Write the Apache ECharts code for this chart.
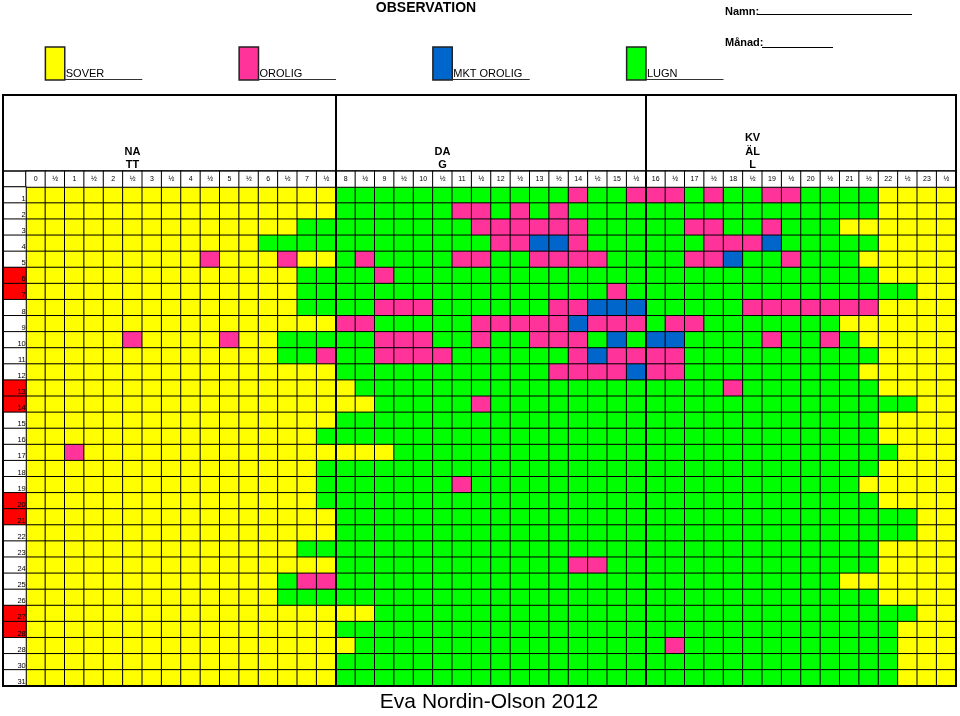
<!DOCTYPE html>
<html><head><meta charset="utf-8">
<script src="https://cdn.jsdelivr.net/npm/echarts@6/dist/echarts.min.js"></script>
<style>html,body{margin:0;padding:0;background:#fff}#c{width:960px;height:716px}</style>
</head><body><div id="c"></div>
<script>
// ---- DATA ----
const timeLabels = ['0','½','1','½','2','½','3','½','4','½','5','½','6','½','7','½',
  '8','½','9','½','10','½','11','½','12','½','13','½','14','½','15','½',
  '16','½','17','½','18','½','19','½','20','½','21','½','22','½','23','½'];
const dayLabels = ['1','2','3','4','5','6','7','8','9','10','11','12','13','14','15','16',
  '17','18','19','20','21','22','23','24','25','26','27','28','28','30','31'];
const redDays = [6,7,13,14,20,21,27,28]; // row numbers (1-based) with red label cell
const stateNames = ['SOVER','OROLIG','MKT OROLIG','LUGN'];
const stateColors = ['#ffff00','#ff3399','#0066cc','#00ff00'];
const stateCodes = 'YPBG'; // Y=SOVER, P=OROLIG, B=MKT OROLIG, G=LUGN
const groupLabels = ['NA\nTT','DA\nG','KV\nÄL\nL'];
// one string per day, 48 half-hour cells, grouped by 8
const dayRows = [
  'YYYYYYYY YYYYYYYY GGGGGGGG GGGGPGGP PPGPGGPP GGGGYYYY', // 1
  'YYYYYYYY YYYYYYYY GGGGGGPP GPGPGGGG GGGGGGGG GGGGYYYY', // 2
  'YYYYYYYY YYYYYYGG GGGGGGGP PPPPPGGG GGPPGGPG GGYYYYYY', // 3
  'YYYYYYYY YYYYGGGG GGGGGGGG PPBBPGGG GGGPPPBG GGGGYYYY', // 4
  'YYYYYYYY YPYYYPYY GPGGGGPP GGPPPPGG GGPPBGGP GGGYYYYY', // 5
  'YYYYYYYY YYYYYYGG GGPGGGGG GGGGGGGG GGGGGGGG GGGGYYYY', // 6
  'YYYYYYYY YYYYYYGG GGGGGGGG GGGGGGPG GGGGGGGG GGGGGGYY', // 7
  'YYYYYYYY YYYYYYGG GGPPPGGG GGGPPBBB GGGGGPPP PPPPYYYY', // 8
  'YYYYYYYY YYYYYYYY PPGGGGGP PPPPBPPP GPPGGGGG GGYYYYYY', // 9
  'YYYYYPYY YYPYYGGG GGPPPGGP GGPPPGBG BBGGGGPG GPGYYYYY', // 10
  'YYYYYYYY YYYYYGGP GGPPPPGG GGGGPBPP PPGGGGGG GGGGYYYY', // 11
  'YYYYYYYY YYYYYYYY GGGGGGGG GGGPPPPB PPGGGGGG GGGYYYYY', // 12
  'YYYYYYYY YYYYYYYY YGGGGGGG GGGGGGGG GGGGPGGG GGGGYYYY', // 13
  'YYYYYYYY YYYYYYYY YYGGGGGP GGGGGGGG GGGGGGGG GGGGGGYY', // 14
  'YYYYYYYY YYYYYYYY GGGGGGGG GGGGGGGG GGGGGGGG GGGGYYYY', // 15
  'YYYYYYYY YYYYYYYG GGGGGGGG GGGGGGGG GGGGGGGG GGGGYYYY', // 16
  'YYPYYYYY YYYYYYYY YYYGGGGG GGGGGGGG GGGGGGGG GGGGGYYY', // 17
  'YYYYYYYY YYYYYYYG GGGGGGGG GGGGGGGG GGGGGGGG GGGGYYYY', // 18
  'YYYYYYYY YYYYYYYG GGGGGGPG GGGGGGGG GGGGGGGG GGGYYYYY', // 19
  'YYYYYYYY YYYYYYYG GGGGGGGG GGGGGGGG GGGGGGGG GGGGYYYY', // 20
  'YYYYYYYY YYYYYYYY GGGGGGGG GGGGGGGG GGGGGGGG GGGGGGYY', // 21
  'YYYYYYYY YYYYYYYY GGGGGGGG GGGGGGGG GGGGGGGG GGGGGGYY', // 22
  'YYYYYYYY YYYYYYGG GGGGGGGG GGGGGGGG GGGGGGGG GGGGYYYY', // 23
  'YYYYYYYY YYYYYYYY GGGGGGGG GGGGPPGG GGGGGGGG GGGGYYYY', // 24
  'YYYYYYYY YYYYYGPP GGGGGGGG GGGGGGGG GGGGGGGG GGYYYYYY', // 25
  'YYYYYYYY YYYYYGGG GGGGGGGG GGGGGGGG GGGGGGGG GGGGYYYY', // 26
  'YYYYYYYY YYYYYYYY YYGGGGGG GGGGGGGG GGGGGGGG GGGGGGYY', // 27
  'YYYYYYYY YYYYYYYY GGGGGGGG GGGGGGGG GGGGGGGG GGGGGYYY', // 28
  'YYYYYYYY YYYYYYYY YGGGGGGG GGGGGGGG GPGGGGGG GGGGGYYY', // 29 (labelled 28)
  'YYYYYYYY YYYYYYYY GGGGGGGG GGGGGGGG GGGGGGGG GGGGGYYY', // 30
  'YYYYYYYY YYYYYYYY GGGGGGGG GGGGGGGG GGGGGGGG GGGGGYYY'  // 31
];

// ---- LAYOUT ----
const L = 26, R = 956, T = 187, B = 686, HT = 171, FT = 95, LX = 3;
const cw = (R - L) / 48;
const FONT = '"Liberation Sans", Arial, sans-serif';

const mainData = [];
dayRows.forEach((s, r) => {
  const str = s.replace(/ /g, '');
  for (let c = 0; c < str.length; c++) mainData.push([c, r, stateCodes.indexOf(str[c])]);
});
const idx48 = timeLabels.map((_, i) => i);
const idx31 = dayLabels.map((_, i) => i);

const chart = echarts.init(document.getElementById('c'), null, {renderer: 'canvas'});

const hiddenCat = (gi, data, inverse) => ({gridIndex: gi, type: 'category', data: data, show: false, inverse: !!inverse});

const graphics = [];
// title / name fields
graphics.push({type: 'text', x: 426, y: 8, style: {text: 'OBSERVATION', font: 'bold 14px ' + FONT, fill: '#000', align: 'center', verticalAlign: 'middle'}});
graphics.push({type: 'text', x: 725, y: 12, style: {text: 'Namn:', font: 'bold 11px ' + FONT, fill: '#000', align: 'left', verticalAlign: 'middle'}});
graphics.push({type: 'line', shape: {x1: 758, y1: 14.5, x2: 912, y2: 14.5}, style: {stroke: '#000', lineWidth: 1}});
graphics.push({type: 'text', x: 725, y: 43, style: {text: 'Månad:', font: 'bold 11px ' + FONT, fill: '#000', align: 'left', verticalAlign: 'middle'}});
graphics.push({type: 'line', shape: {x1: 762, y1: 47.5, x2: 833, y2: 47.5}, style: {stroke: '#000', lineWidth: 1}});
// legend
stateNames.forEach((name, i) => {
  const bx = L + (1 + 10 * i) * cw;
  graphics.push({type: 'rect', shape: {x: bx, y: 47, width: cw, height: 33}, style: {fill: stateColors[i], stroke: '#222', lineWidth: 1.5}});
  graphics.push({type: 'text', x: bx + cw + 1, y: 73.5, style: {text: name, font: '11px ' + FONT, fill: '#000', align: 'left', verticalAlign: 'middle'}});
  graphics.push({type: 'line', shape: {x1: bx + cw, y1: 79.5, x2: L + (6 + 10 * i) * cw, y2: 79.5}, style: {stroke: '#333', lineWidth: 1}});
});
// header frame
graphics.push({type: 'rect', z: 10, shape: {x: LX, y: FT, width: R - LX, height: B - FT}, style: {fill: 'none', stroke: '#000', lineWidth: 2}});
graphics.push({type: 'line', z: 10, shape: {x1: LX, y1: HT, x2: R, y2: HT}, style: {stroke: '#000', lineWidth: 1.2}});
[16, 32].forEach(k => {
  graphics.push({type: 'line', z: 10, shape: {x1: L + k * cw, y1: FT, x2: L + k * cw, y2: B}, style: {stroke: '#000', lineWidth: 2}});
});
groupLabels.forEach((g, i) => {
  graphics.push({type: 'text', z: 10, x: L + (5.5 + 16 * i) * cw, y: HT + 0.5, style: {text: g, font: 'bold 11px ' + FONT, fill: '#000', align: 'center', verticalAlign: 'bottom', lineHeight: 13.3}});
});
// corner cell
graphics.push({type: 'rect', shape: {x: LX, y: HT, width: L - LX, height: T - HT}, style: {fill: '#fff', stroke: '#000', lineWidth: 1}});
// footer
graphics.push({type: 'text', x: 489, y: 702, style: {text: 'Eva Nordin-Olson 2012', font: '21px ' + FONT, fill: '#000', align: 'center', verticalAlign: 'middle'}});

chart.setOption({
  animation: false,
  backgroundColor: '#fff',
  grid: [
    {left: L, top: T, width: R - L, height: B - T, outerBoundsMode: 'none', containLabel: false},
    {left: L, top: HT, width: R - L, height: T - HT, outerBoundsMode: 'none', containLabel: false},
    {left: LX, top: T, width: L - LX, height: B - T, outerBoundsMode: 'none', containLabel: false}
  ],
  xAxis: [hiddenCat(0, idx48), hiddenCat(1, idx48), hiddenCat(2, [0])],
  yAxis: [hiddenCat(0, idx31, true), hiddenCat(1, [0]), hiddenCat(2, idx31, true)],
  visualMap: {
    type: 'piecewise', show: false, seriesIndex: 0, dimension: 2,
    pieces: stateNames.map((n, i) => ({value: i, label: n, color: stateColors[i]}))
  },
  series: [
    {
      type: 'heatmap', xAxisIndex: 0, yAxisIndex: 0, data: mainData,
      itemStyle: {borderColor: '#000', borderWidth: 1},
      emphasis: {disabled: true}
    },
    {
      type: 'heatmap', xAxisIndex: 1, yAxisIndex: 1,
      data: idx48.map(i => ({value: [i, 0, 0], itemStyle: {color: '#fff'}})),
      itemStyle: {color: '#fff', borderColor: '#000', borderWidth: 1},
      label: {show: true, formatter: p => timeLabels[p.dataIndex], fontSize: 7, fontFamily: FONT, color: '#000'},
      emphasis: {disabled: true}
    },
    {
      type: 'heatmap', xAxisIndex: 2, yAxisIndex: 2,
      data: idx31.map(i => ({value: [0, i, 0], itemStyle: {color: redDays.includes(i + 1) ? '#ff0000' : '#fff'}})),
      itemStyle: {borderColor: '#000', borderWidth: 1},
      label: {show: true, position: 'insideBottomRight', distance: 1, formatter: p => dayLabels[p.dataIndex], fontSize: 7.5, fontFamily: FONT, color: '#000'},
      emphasis: {disabled: true}
    }
  ],
  graphic: graphics
});
</script></body></html>
